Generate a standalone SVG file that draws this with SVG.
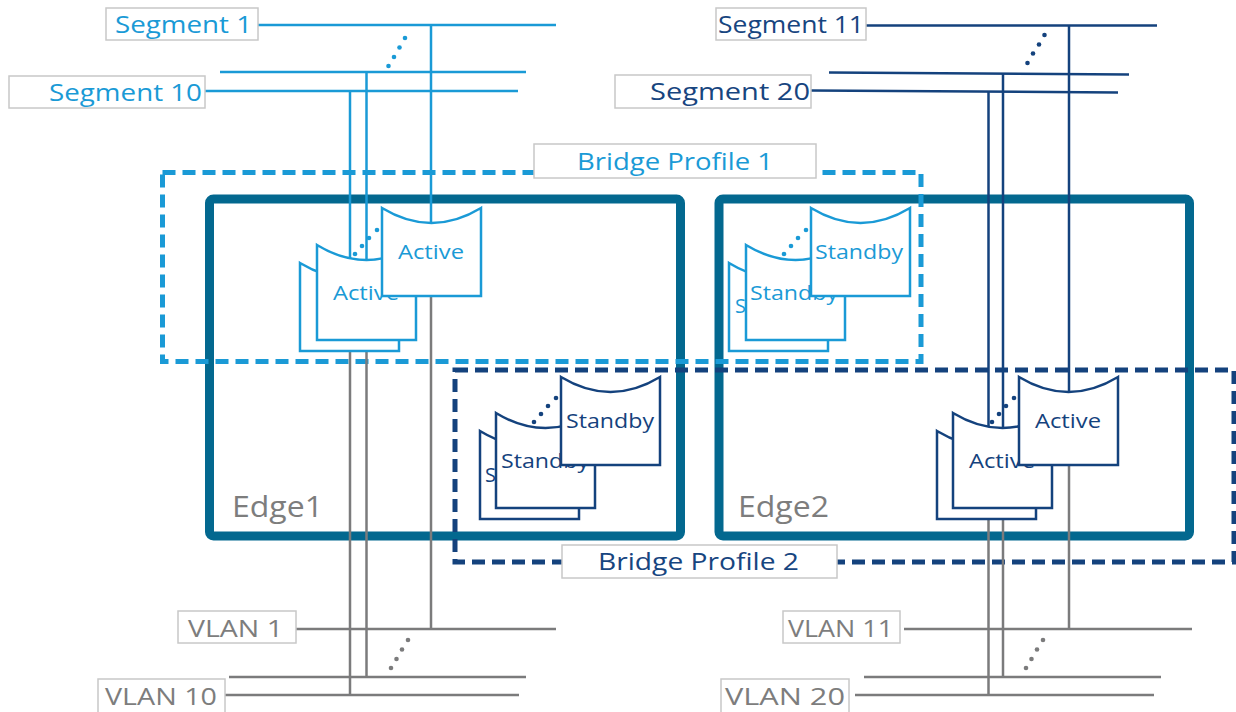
<svg xmlns="http://www.w3.org/2000/svg" width="1236" height="712" viewBox="0 0 1236 712">
<style>
text{font-family:"Open Sans","Noto Sans",sans-serif;}
.lbl{fill:#fff;stroke:#c8c8c8;stroke-width:1.5;}
.tlb{fill:#1a9ad6;font-size:23px;}
.tdb{fill:#17457f;font-size:23px;}
.tg{fill:#7d7d7d;font-size:24px;}
.tedge{fill:#7d7d7d;font-size:30px;}
.tsh{font-size:20px;}
.lb{stroke:#1a9ad6;}
.db{stroke:#14427d;}
.gr{stroke:#7b7b7c;}
.ln{stroke-width:2.5;fill:none;}
.edge{fill:none;stroke:#03688f;stroke-width:9;}
.dash{fill:none;stroke-width:5;stroke-dasharray:13 7;}
.doc{fill:#fff;stroke-width:2.5;}
.dlb{fill:#1a9ad6;}
.ddb{fill:#14427d;}
.dgr{fill:#7b7b7c;}
</style>
<defs>
<path id="docA" d="M0,0 Q49.5,30 99,0 V88 H0 Z"/>
<path id="docB" d="M0,0 Q49.5,30 99,0 V95 H0 Z"/>
</defs>

<g id="edge1"><rect class="edge" x="209.5" y="199" width="471" height="337" rx="4"/><text class="tedge" x="232" y="517" textLength="91" lengthAdjust="spacingAndGlyphs">Edge1</text></g>
<g id="edge2"><rect class="edge" x="719" y="199" width="470.5" height="337" rx="4"/><text class="tedge" x="738" y="517" textLength="91" lengthAdjust="spacingAndGlyphs">Edge2</text></g>

<g id="bridge-profile-1"><rect class="dash lb" x="162.5" y="172.5" width="758.5" height="189"/></g>
<g id="bridge-profile-2"><rect class="dash db" x="455" y="370" width="779" height="192"/></g>

<g id="connectors">
<line class="ln lb" x1="258" y1="25" x2="556" y2="25"/>
<line class="ln lb" x1="220" y1="72" x2="526" y2="72"/>
<line class="ln lb" x1="205" y1="91" x2="518" y2="91"/>
<line class="ln db" x1="866" y1="25.5" x2="1157" y2="25.5"/>
<line class="ln db" x1="829" y1="72.5" x2="1129" y2="74.5"/>
<line class="ln db" x1="811" y1="90.5" x2="1118" y2="92.5"/>
<line class="ln gr" x1="296" y1="629" x2="556" y2="629"/>
<line class="ln gr" x1="229" y1="677" x2="526" y2="677"/>
<line class="ln gr" x1="225" y1="695" x2="519" y2="695"/>
<line class="ln gr" x1="904" y1="629" x2="1192" y2="629"/>
<line class="ln gr" x1="864" y1="677" x2="1161" y2="677"/>
<line class="ln gr" x1="855" y1="695" x2="1154" y2="695"/>
<line class="ln lb" x1="350" y1="91" x2="350" y2="280"/>
<line class="ln lb" x1="366.5" y1="72" x2="366.5" y2="280"/>
<line class="ln lb" x1="431" y1="25" x2="431" y2="250"/>
<line class="ln gr" x1="350" y1="300" x2="350" y2="696"/>
<line class="ln gr" x1="366.5" y1="300" x2="366.5" y2="677"/>
<line class="ln gr" x1="431" y1="260" x2="431" y2="629"/>
<line class="ln db" x1="988.5" y1="91.5" x2="988.5" y2="450"/>
<line class="ln db" x1="1003" y1="73.5" x2="1003" y2="450"/>
<line class="ln db" x1="1069" y1="25.5" x2="1069" y2="420"/>
<line class="ln gr" x1="988.5" y1="460" x2="988.5" y2="696"/>
<line class="ln gr" x1="1003" y1="460" x2="1003" y2="677"/>
<line class="ln gr" x1="1069" y1="430" x2="1069" y2="629"/>
<g class="dlb"><circle cx="405" cy="38" r="2.3"/><circle cx="399.5" cy="47.5" r="2.3"/><circle cx="394" cy="57" r="2.3"/><circle cx="388.5" cy="66" r="2.3"/></g>
<g class="ddb"><circle cx="1044.5" cy="35" r="2.3"/><circle cx="1039" cy="44.5" r="2.3"/><circle cx="1033" cy="53.5" r="2.3"/><circle cx="1027.5" cy="63" r="2.3"/></g>
<g class="dgr"><circle cx="408" cy="640" r="2.3"/><circle cx="402" cy="649.5" r="2.3"/><circle cx="396.5" cy="659" r="2.3"/><circle cx="391" cy="668" r="2.3"/></g>
<g class="dgr"><circle cx="1043" cy="640" r="2.3"/><circle cx="1037" cy="649.5" r="2.3"/><circle cx="1031.5" cy="659" r="2.3"/><circle cx="1026" cy="668" r="2.3"/></g>
</g>

<g id="edge1-active-stack">
<use href="#docA" class="doc lb" x="300" y="263"/>
<use href="#docB" class="doc lb" x="317" y="245"/>
<text class="tsh dlb" x="333" y="300" textLength="66" lengthAdjust="spacingAndGlyphs">Active</text>
<g class="dlb"><circle cx="355" cy="254" r="2.3"/><circle cx="362" cy="246" r="2.3"/><circle cx="369" cy="238" r="2.3"/><circle cx="377" cy="230" r="2.3"/></g>
<use href="#docA" class="doc lb" x="382" y="208"/>
<text class="tsh dlb" x="398" y="259" textLength="66" lengthAdjust="spacingAndGlyphs">Active</text>
</g>

<g id="edge2-standby-stack">
<use href="#docA" class="doc lb" x="729" y="263"/>
<text class="tsh dlb" x="735" y="313">S</text>
<use href="#docB" class="doc lb" x="746" y="245"/>
<text class="tsh dlb" x="750" y="300" textLength="88" lengthAdjust="spacingAndGlyphs">Standby</text>
<g class="dlb"><circle cx="784" cy="254" r="2.3"/><circle cx="791" cy="246" r="2.3"/><circle cx="798" cy="238" r="2.3"/><circle cx="806" cy="230" r="2.3"/></g>
<use href="#docA" class="doc lb" x="811" y="208"/>
<text class="tsh dlb" x="815" y="259" textLength="88" lengthAdjust="spacingAndGlyphs">Standby</text>
</g>

<g id="edge1-standby-stack">
<use href="#docA" class="doc db" x="480" y="431"/>
<text class="tsh ddb" x="485" y="482">S</text>
<use href="#docB" class="doc db" x="496" y="413"/>
<text class="tsh ddb" x="501" y="468" textLength="88" lengthAdjust="spacingAndGlyphs">Standby</text>
<g class="ddb"><circle cx="534" cy="422" r="2.3"/><circle cx="541" cy="414" r="2.3"/><circle cx="548" cy="406" r="2.3"/><circle cx="556" cy="398" r="2.3"/></g>
<use href="#docA" class="doc db" x="561" y="377"/>
<text class="tsh ddb" x="566" y="428" textLength="88" lengthAdjust="spacingAndGlyphs">Standby</text>
</g>

<g id="edge2-active-stack">
<use href="#docA" class="doc db" x="937" y="431"/>
<use href="#docB" class="doc db" x="953" y="413"/>
<text class="tsh ddb" x="969" y="468" textLength="66" lengthAdjust="spacingAndGlyphs">Active</text>
<g class="ddb"><circle cx="992" cy="422" r="2.3"/><circle cx="999" cy="414" r="2.3"/><circle cx="1006" cy="406" r="2.3"/><circle cx="1014" cy="398" r="2.3"/></g>
<use href="#docA" class="doc db" x="1019" y="377"/>
<text class="tsh ddb" x="1035" y="428" textLength="66" lengthAdjust="spacingAndGlyphs">Active</text>
</g>

<g id="label-segment-1"><rect class="lbl" x="106" y="8" width="152" height="32"/><text class="tlb" x="115" y="32.5" textLength="137" lengthAdjust="spacingAndGlyphs">Segment 1</text></g>
<g id="label-segment-10"><rect class="lbl" x="9" y="76" width="196" height="32"/><text class="tlb" x="49" y="100.5" textLength="153" lengthAdjust="spacingAndGlyphs">Segment 10</text></g>
<g id="label-segment-11"><rect class="lbl" x="716" y="8" width="150" height="32"/><text class="tdb" x="718" y="32.5" textLength="146" lengthAdjust="spacingAndGlyphs">Segment 11</text></g>
<g id="label-segment-20"><rect class="lbl" x="615" y="75" width="196" height="33"/><text class="tdb" x="650" y="100" textLength="160" lengthAdjust="spacingAndGlyphs">Segment 20</text></g>
<g id="label-bridge-profile-1"><rect class="lbl" x="534" y="144" width="282" height="34"/><text class="tlb" x="577" y="170" textLength="196" lengthAdjust="spacingAndGlyphs">Bridge Profile 1</text></g>
<g id="label-bridge-profile-2"><rect class="lbl" x="562" y="545" width="275" height="33"/><text class="tdb" x="598" y="570" textLength="201" lengthAdjust="spacingAndGlyphs">Bridge Profile 2</text></g>
<g id="label-vlan-1"><rect class="lbl" x="178" y="611" width="118" height="32"/><text class="tg" x="188" y="637" textLength="95" lengthAdjust="spacingAndGlyphs">VLAN 1</text></g>
<g id="label-vlan-10"><rect class="lbl" x="98" y="679" width="127" height="36"/><text class="tg" x="105" y="705" textLength="112" lengthAdjust="spacingAndGlyphs">VLAN 10</text></g>
<g id="label-vlan-11"><rect class="lbl" x="783" y="611" width="117" height="32"/><text class="tg" x="788" y="637" textLength="105" lengthAdjust="spacingAndGlyphs">VLAN 11</text></g>
<g id="label-vlan-20"><rect class="lbl" x="721" y="679" width="128" height="36"/><text class="tg" x="725" y="705" textLength="120" lengthAdjust="spacingAndGlyphs">VLAN 20</text></g>
</svg>
